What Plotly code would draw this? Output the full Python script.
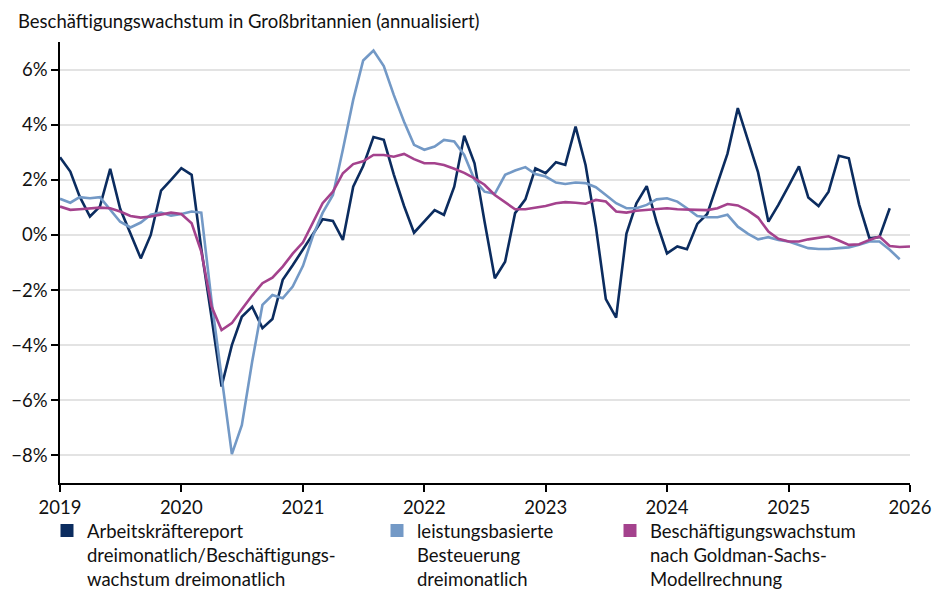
import pandas as pd
import plotly.graph_objects as go

# Monthly data, annualised employment growth in %
lfs_values = [2.82, 2.30, 1.40, 0.67, 1.03, 2.40, 0.95, 0.05, -0.85, 0.00, 1.61, 2.00,
              2.42, 2.18, -0.50, -3.00, -5.50, -4.00, -2.97, -2.60, -3.38, -3.05, -1.63, -1.10,
              -0.54, 0.05, 0.57, 0.51, -0.18, 1.75, 2.50, 3.55, 3.45, 2.20, 1.05, 0.08,
              0.48, 0.90, 0.73, 1.75, 3.60, 2.60, 0.50, -1.57, -0.97, 0.79, 1.29, 2.42,
              2.24, 2.64, 2.54, 3.93, 2.54, 0.30, -2.33, -3.00, 0.05, 1.15, 1.77, 0.45,
              -0.67, -0.42, -0.52, 0.40, 0.76, 1.88, 2.95, 4.60, 3.45, 2.27, 0.48, 1.09,
              1.78, 2.49, 1.36, 1.05, 1.57, 2.87, 2.78, 1.10, -0.12, -0.08, 0.97]

rti_values = [1.31, 1.17, 1.37, 1.33, 1.37, 0.91, 0.48, 0.27, 0.45, 0.73, 0.81, 0.70,
              0.76, 0.85, 0.81, -2.40, -5.20, -7.95, -6.90, -4.60, -2.54, -2.18, -2.30, -1.87,
              -1.12, 0.00, 0.80, 1.45, 3.10, 4.90, 6.33, 6.69, 6.13, 5.08, 4.11, 3.27,
              3.09, 3.21, 3.45, 3.39, 2.90, 2.00, 1.57, 1.49, 2.18, 2.34, 2.46, 2.21,
              2.12, 1.90, 1.85, 1.90, 1.88, 1.73, 1.45, 1.15, 0.97, 0.97, 1.09, 1.29,
              1.33, 1.21, 0.97, 0.69, 0.64, 0.64, 0.73, 0.30, 0.04, -0.16, -0.08, -0.18,
              -0.24, -0.36, -0.48, -0.51, -0.51, -0.48, -0.45, -0.36, -0.24, -0.24, -0.54, -0.88]

gs_values = [1.03, 0.91, 0.93, 0.97, 0.99, 0.97, 0.85, 0.69, 0.63, 0.67, 0.73, 0.81,
             0.76, 0.42, -0.60, -2.60, -3.45, -3.20, -2.70, -2.20, -1.75, -1.55, -1.15, -0.68,
             -0.27, 0.48, 1.15, 1.57, 2.24, 2.57, 2.67, 2.90, 2.90, 2.84, 2.94, 2.75,
             2.60, 2.60, 2.54, 2.40, 2.25, 2.05, 1.82, 1.45, 1.19, 0.93, 0.93, 0.99,
             1.05, 1.15, 1.19, 1.17, 1.13, 1.27, 1.21, 0.85, 0.81, 0.88, 0.91, 0.93,
             0.97, 0.93, 0.91, 0.91, 0.90, 0.97, 1.12, 1.07, 0.88, 0.63, 0.12, -0.14,
             -0.24, -0.24, -0.16, -0.11, -0.05, -0.20, -0.36, -0.34, -0.18, -0.06, -0.40, -0.44,
             -0.42]

lfs_dates = pd.date_range("2019-01-01", periods=len(lfs_values), freq="MS")
rti_dates = pd.date_range("2019-01-01", periods=len(rti_values), freq="MS")
gs_dates = pd.date_range("2019-01-01", periods=len(gs_values), freq="MS")

series_names = [
    "Arbeitskräftereport<br>dreimonatlich/Beschäftigungs-<br>wachstum dreimonatlich",
    "leistungsbasierte<br>Besteuerung<br>dreimonatlich",
    "Beschäftigungswachstum<br>nach Goldman-Sachs-<br>Modellrechnung",
]
colors = ["#0b2c5f", "#7399c6", "#a4428d"]
year_ticks = [f"{y}-01-01" for y in range(2019, 2027)]
year_labels = [str(y) for y in range(2019, 2027)]
y_ticks = [-8, -6, -4, -2, 0, 2, 4, 6]
y_labels = ["\u22128%", "\u22126%", "\u22124%", "\u22122%", "0%", "2%", "4%", "6%"]

FONT = "Lato"
FS = 18.5
W, H = 925, 581  # page body adds an 8px margin on each side

fig = go.Figure()
for dates, vals, col in zip([lfs_dates, rti_dates, gs_dates],
                            [lfs_values, rti_values, gs_values], colors):
    fig.add_trace(go.Scatter(x=dates, y=vals, mode="lines",
                             line=dict(color=col, width=2.6),
                             showlegend=False, hoverinfo="skip"))

legend_ids = ["legend", "legend2", "legend3"]
for name, col, lid in zip(series_names, colors, legend_ids):
    fig.add_trace(go.Scatter(x=[None], y=[None], mode="markers", name=name,
                             marker=dict(symbol="square", size=13, color=col),
                             legend=lid, showlegend=True))

leg_common = dict(orientation="v", xanchor="left", yanchor="top", valign="top",
                  xref="container", yref="container",
                  bgcolor="rgba(0,0,0,0)", font=dict(family=FONT, size=FS, color="#111"),
                  itemwidth=30, tracegroupgap=0)
leg_top = 1 - 504 / H

fig.update_layout(
    width=W, height=H,
    margin=dict(l=52, r=23, t=34, b=106, autoexpand=False),
    paper_bgcolor="white", plot_bgcolor="white",
    font=dict(family=FONT, size=FS, color="#111"),
    title=dict(text="Beschäftigungswachstum in Großbritannien (annualisiert)",
               x=10 / W, xanchor="left", xref="container",
               y=1 - 14 / H, yanchor="middle", yref="container",
               font=dict(family=FONT, size=FS, color="#111")),
    xaxis=dict(type="date", range=["2019-01-01", "2026-01-01"],
               tickvals=year_ticks, ticktext=year_labels,
               showgrid=False, zeroline=False, automargin=False,
               showline=True, linecolor="#000", linewidth=1.5,
               ticks="outside", ticklen=7, tickwidth=1.5, tickcolor="#000",
               tickfont=dict(family=FONT, size=FS, color="#111")),
    yaxis=dict(range=[-9, 7], tickvals=y_ticks, ticktext=y_labels,
               showgrid=True, gridcolor="#e3e3e3", gridwidth=1.5,
               zeroline=False, showline=True, linecolor="#000", linewidth=1.5,
               automargin=False,
               ticks="outside", ticklen=7, tickwidth=1.5, tickcolor="#000",
               tickfont=dict(family=FONT, size=FS, color="#111")),
    legend=dict(x=39 / W, y=leg_top, **leg_common),
    legend2=dict(x=369 / W, y=leg_top, **leg_common),
    legend3=dict(x=602 / W, y=leg_top, **leg_common),
)

fig.write_html("out.html")
